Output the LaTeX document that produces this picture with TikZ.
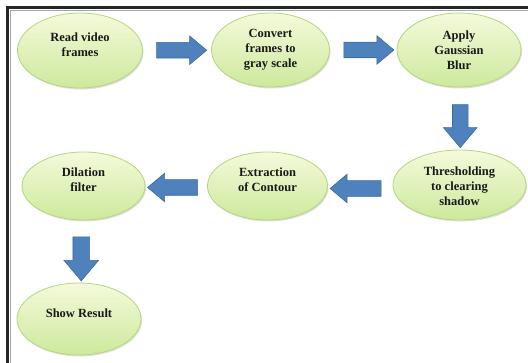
\documentclass[tikz,border=0pt]{standalone}
\usepackage{fontspec}
\setmainfont{Liberation Serif}
\usetikzlibrary{shapes.geometric,shapes.arrows,calc,shadows}
\definecolor{ellborder}{HTML}{B5D67E}
\definecolor{elltop}{HTML}{F4FADB}
\definecolor{ellbot}{HTML}{CDE99C}
\definecolor{arrfill}{HTML}{4F81BD}
\definecolor{arrdraw}{HTML}{3A6A9E}
\begin{document}
\begin{tikzpicture}[x=1pt,y=-1pt,
  stepell/.style={ellipse, draw=ellborder, line width=0.8pt, top color=elltop, bottom color=ellbot, inner sep=0pt,
    drop shadow={shadow xshift=1pt, shadow yshift=-1.5pt, opacity=0.25}},
  lbl/.style={font=\bfseries\fontsize{12.5}{15}\selectfont, align=center, text=black!90, inner sep=0pt},
  barrow/.style={single arrow, draw=arrdraw, fill=arrfill, line width=0.6pt, inner xsep=0pt, inner ysep=7.5pt,
    single arrow head extend=6.5pt, single arrow tip angle=80, single arrow head indent=0pt},
  varrow/.style={barrow, inner xsep=7.5pt, inner ysep=0pt, single arrow head extend=9pt, shape border rotate=270}]
\useasboundingbox (0,0) rectangle (528,363);
\fill[white] (0,0) rectangle (528,363);
% frame
\draw[black!85, line width=2.4pt] (528,7.6) -- (7.6,7.6) -- (7.6,363);
\draw[black!35, line width=0.6pt] (528,10.6) -- (10.6,10.6) -- (10.6,363);
% ellipses
\node[stepell, minimum width=125pt, minimum height=75pt] (e1) at (80,50.5) {};
\node[stepell, minimum width=118pt, minimum height=74pt] (e2) at (270.5,50) {};
\node[stepell, minimum width=124pt, minimum height=74pt] (e3) at (459,50) {};
\node[stepell, minimum width=133pt, minimum height=70pt] (e4) at (459.5,185) {};
\node[stepell, minimum width=120pt, minimum height=68pt] (e5) at (267.5,186) {};
\node[stepell, minimum width=123pt, minimum height=68pt] (e6) at (83.5,186) {};
\node[stepell, minimum width=124pt, minimum height=72pt] (e7) at (79,319) {};
% labels
\node[lbl] (t1) at ($(e1.center)+(0,-6)$) {Read video\\frames};
\node[lbl] (t2) at ($(e2.center)+(0,0)$) {Convert\\frames to\\gray scale};
\node[lbl] (t3) at ($(e3.center)+(0,0)$) {Apply\\Gaussian\\Blur};
\node[lbl] (t4) at ($(e4.center)+(0,1)$) {Thresholding\\to clearing\\shadow};
\node[lbl] (t5) at ($(e5.center)+(0,-6)$) {Extraction\\of Contour};
\node[lbl] (t6) at ($(e6.center)+(0,-6)$) {Dilation\\filter};
\node[lbl] (t7) at ($(e7.center)+(0,-6)$) {Show Result};
% block arrows
\node[barrow, minimum height=50pt] (a1) at ($(e1.east)!0.5!(e2.west)$) {};
\node[barrow, minimum height=50pt] (a2) at ($(e2.east)!0.5!(e3.west)+(1,0)$) {};
\node[varrow, minimum height=43pt] (a3) at ($(e3.south)!0.5!(e4.north)+(1,3)$) {};
\node[barrow, minimum height=51pt, shape border rotate=180] (a4) at ($(e4.west)!0.5!(e5.east)+(0,3)$) {};
\node[barrow, minimum height=50pt, shape border rotate=180] (a5) at ($(e6.east)!0.5!(e5.west)+(1,1.5)$) {};
\node[varrow, minimum height=44pt, inner xsep=8pt] (a6) at ($(e6.south)!0.5!(e7.north)+(0,2.5)$) {};
\end{tikzpicture}
\end{document}
